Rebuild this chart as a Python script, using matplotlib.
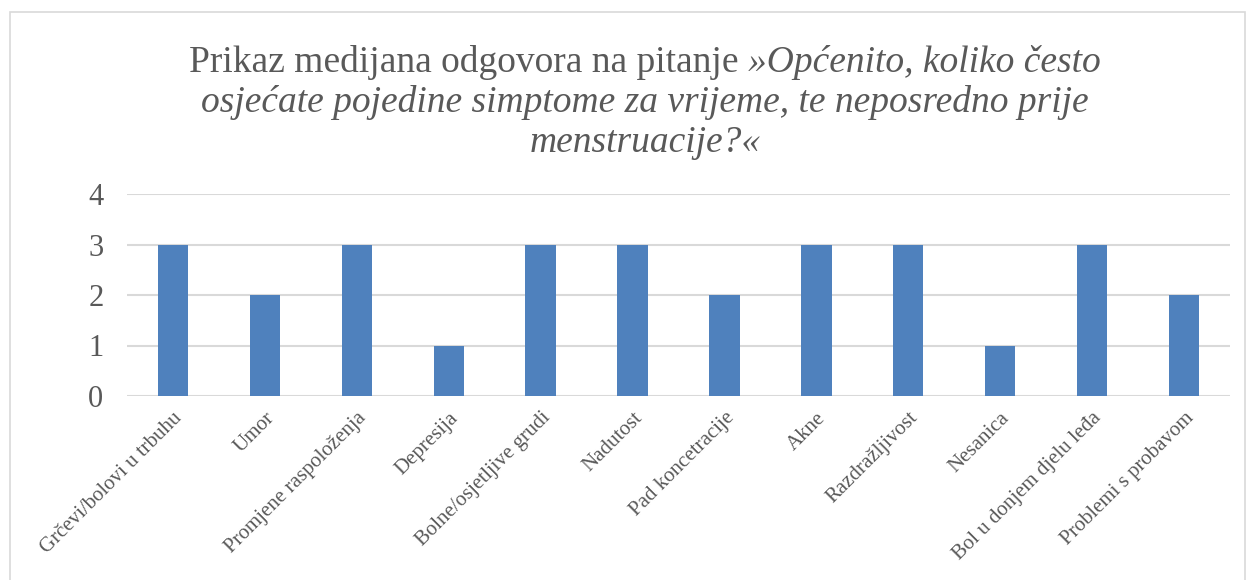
import matplotlib
matplotlib.use("Agg")
import matplotlib.pyplot as plt
from matplotlib.patches import Rectangle

categories = ["Grčevi/bolovi u trbuhu", "Umor", "Promjene raspoloženja", "Depresija",
              "Bolne/osjetljive grudi", "Nadutost", "Pad koncetracije", "Akne",
              "Razdražljivost", "Nesanica", "Bol u donjem djelu leđa", "Problemi s probavom"]
medians = [3, 2, 3, 1, 3, 3, 2, 3, 3, 1, 3, 2]
yticks = [0, 1, 2, 3, 4]

plt.rcParams['font.family'] = ['Liberation Serif', 'DejaVu Serif']
grey = "#595959"

W, H = 1247, 580
fig = plt.figure(figsize=(W / 100, H / 100), dpi=100)
ax = fig.add_axes([127 / W, 1 - 396 / H, (1230 - 127) / W, (396 - 194) / H])

x = range(len(categories))
ax.bar(x, medians, width=0.33, color="#4F81BD", zorder=3)
ax.set_xlim(-0.5, len(categories) - 0.5)
ax.set_ylim(0, 4)
ax.set_yticks(yticks)
ax.set_yticklabels([str(v) for v in yticks], fontsize=22, color=grey)
ax.set_xticks(list(x))
ax.set_xticklabels(categories, rotation=45, ha="right", rotation_mode="anchor",
                   fontsize=15, color=grey)
ax.tick_params(axis="x", length=0, pad=9)
ax.tick_params(axis="y", length=0, pad=17)
ax.grid(axis="y", color="#D9D9D9", linewidth=1.5, zorder=0)
for s in ax.spines.values():
    s.set_visible(False)

# chart border
fig.patches.append(Rectangle((10 / W, -0.05), (1245 - 10) / W, 1.05 - 12 / H,
                             transform=fig.transFigure, fill=False,
                             edgecolor="#D9D9D9", linewidth=1.2))

# title: regular + italic on first line
tsize = 27
fig.canvas.draw()
r = fig.canvas.get_renderer()
cx = 645
y1 = H - 62
t1 = fig.text(0, 0, "Prikaz medijana odgovora na pitanje ", fontsize=tsize, color=grey,
              transform=None, va="center")
t2 = fig.text(0, 0, "»Općenito, koliko često", fontsize=tsize, color=grey,
              style="italic", transform=None, va="center")
w1 = t1.get_window_extent(r).width
w2 = t2.get_window_extent(r).width
x0 = cx - (w1 + w2) / 2
t1.set_position((x0, y1))
t2.set_position((x0 + w1, y1))
fig.text(cx / W, 1 - 103 / H, "osjećate pojedine simptome za vrijeme, te neposredno prije",
         fontsize=tsize, color=grey, style="italic", ha="center", va="center")
fig.text(cx / W, 1 - 143 / H, "menstruacije?«",
         fontsize=tsize, color=grey, style="italic", ha="center", va="center")

fig.savefig("out.png", dpi=100)
